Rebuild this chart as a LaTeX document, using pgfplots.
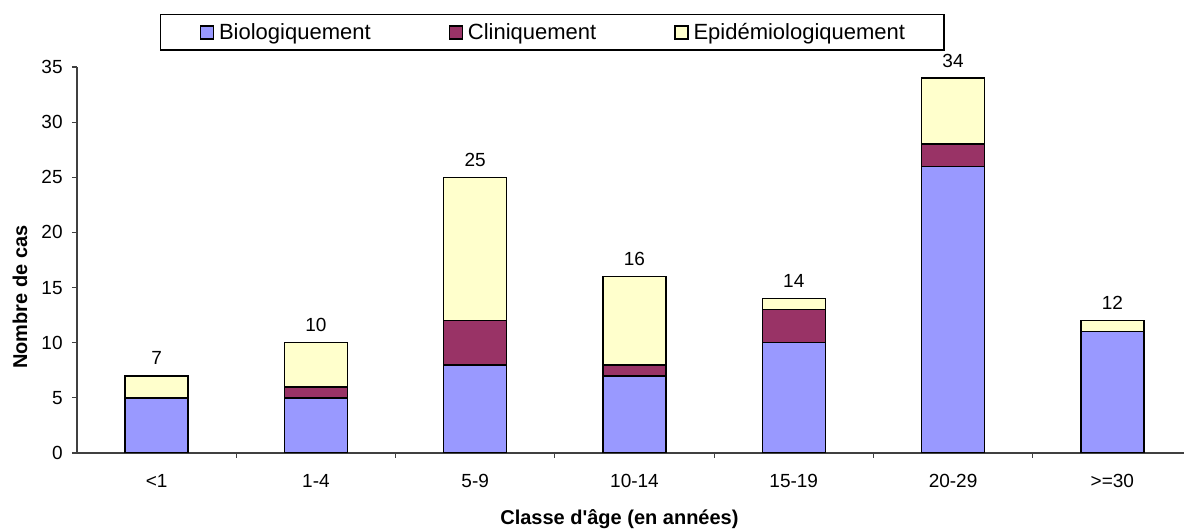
\documentclass[border=0pt]{standalone}
\usepackage{fontspec}
\setmainfont{Liberation Sans}
\usepackage{pgfplots}
\pgfplotsset{compat=1.18}
\usepackage{pgfplotstable}
\definecolor{bio}{RGB}{153,153,255}
\definecolor{clin}{RGB}{153,51,102}
\definecolor{epi}{RGB}{255,255,204}
\pgfplotstableread{
x bio clin epi total top
0 5 0 2 7 0.001
1 5 1 4 10 0.001
2 8 4 13 25 0.001
3 7 1 8 16 0.001
4 10 3 1 14 0.001
5 26 2 6 34 0.001
6 11 0 1 12 0.001
}\data
\begin{document}
\begin{tikzpicture}
\useasboundingbox (-38.5pt,-38.5pt) rectangle (553.5pt,226.5pt);
\begin{axis}[
  at={(0pt,0pt)}, anchor=south west,
  scale only axis, width=553.5pt, height=193pt,
  ybar stacked, bar width=31.5pt,
  /pgf/number format/assume math mode=true,
  xmin=-0.5, xmax=6.45, ymin=0, ymax=35,
  axis x line*=bottom, axis y line*=left,
  axis line style={black!75, line width=0.6pt},
  tick style={black!75, line width=0.6pt},
  tick align=outside, major tick length=2.5pt,
  xtick={0.5,1.5,...,5.5}, xticklabels={{},{},{},{},{},{}},
  extra x ticks={0,1,2,3,4,5,6},
  extra x tick labels={{<1},{1-4},{5-9},{10-14},{15-19},{20-29},{>=30}},
  extra x tick style={major tick length=0pt, xticklabel style={anchor=base, yshift=-17.5pt, inner sep=0pt}},
  ytick={0,5,...,35},
  yticklabel style={anchor=east, inner sep=0pt, xshift=-4.5pt},
  ticklabel style={font=\fontsize{9.5}{11}\selectfont},
  xlabel={Classe d\textquotesingle âge (en années)},
  xlabel style={at={(axis description cs:0.49,0)}, anchor=base, yshift=-36pt, inner sep=0pt, font=\bfseries\fontsize{10}{12}\selectfont},
  ylabel={Nombre de cas},
  ylabel style={at={(axis description cs:-0.0515,0.404)}, anchor=center, inner sep=0pt, font=\bfseries\fontsize{10}{12}\selectfont},
  legend columns=3,
  legend style={at={(axis description cs:0.4295,1.0894)}, anchor=center, draw=black, line width=0.6pt,
    inner xsep=19.5pt, inner ysep=4pt, font=\fontsize{11}{12}\selectfont,
    nodes={inner sep=0pt, anchor=base west},
    /tikz/every even column/.append style={column sep=39pt},
    /tikz/every odd column/.append style={column sep=2.5pt}},
  legend image code/.code={\draw[#1, draw=black, line width=0.6pt] (0pt,0pt) rectangle (6.5pt,6.5pt);},
]
\addplot[fill=bio, draw=black, line width=0.75pt] table[x=x, y=bio] {\data};
\addplot[fill=clin, draw=black, line width=0.75pt] table[x=x, y=clin] {\data};
\addplot[fill=epi, draw=black, line width=0.75pt] table[x=x, y=epi] {\data};
\addplot[draw=none, fill=none, nodes near coords, point meta=explicit,
  nodes near coords style={font=\fontsize{9.5}{11}\selectfont, text=black, anchor=base, yshift=5.5pt, inner sep=0pt}]
  table[x=x, y=top, meta=total] {\data};
\legend{Biologiquement, Cliniquement, Epidémiologiquement}
\end{axis}
\end{tikzpicture}
\end{document}
